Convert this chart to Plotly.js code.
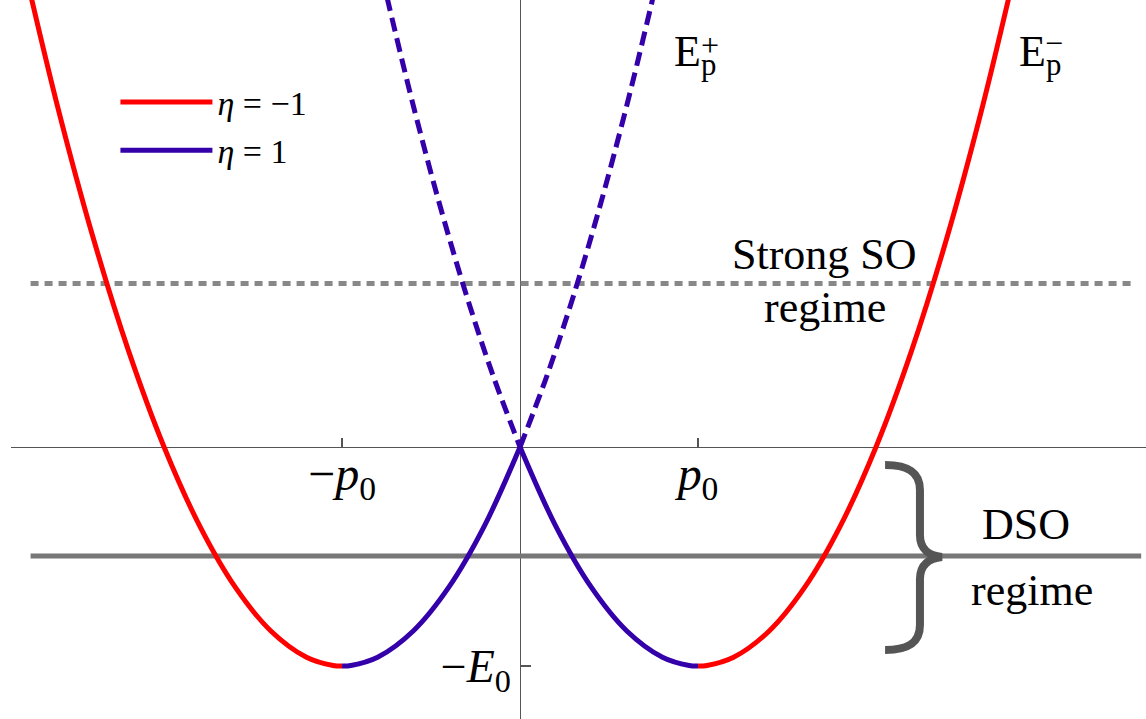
<!DOCTYPE html>
<html>
<head>
<meta charset="utf-8">
<script src="https://cdn.plot.ly/plotly-3.0.1.min.js"></script>
<style>
  html, body { margin: 0; padding: 0; background: #fff; }
  #plot { width: 1146px; height: 719px; }
</style>
</head>
<body>
<div id="plot"></div>
<script>
// Spectrum E(p) in units of p0 (momentum) and E0 (energy)

// outer branch, eta = -1 (solid red)
const redLeftP  = [-2.8, -2.6, -2.4, -2.2, -2.0, -1.8, -1.6, -1.4, -1.2, -1.05, -1.0];
const redLeftE  = [2.24, 1.56, 0.96, 0.44, 0.0, -0.36, -0.64, -0.84, -0.96, -0.9975, -1.0];
const redRightP = [1.0, 1.05, 1.2, 1.4, 1.6, 1.8, 2.0, 2.2, 2.4, 2.6, 2.8];
const redRightE = [-1.0, -0.9975, -0.96, -0.84, -0.64, -0.36, 0.0, 0.44, 0.96, 1.56, 2.24];

// inner branch, eta = 1 (solid blue)
const blueLeftP  = [-1.0, -0.95, -0.8, -0.6, -0.4, -0.2, 0.0];
const blueLeftE  = [-1.0, -0.9975, -0.96, -0.84, -0.64, -0.36, 0.0];
const blueRightP = [0.0, 0.2, 0.4, 0.6, 0.8, 0.95, 1.0];
const blueRightE = [0.0, -0.36, -0.64, -0.84, -0.96, -0.9975, -1.0];

// upper branch E_p^+ (dashed blue)
const dashLeftP  = [-0.8, -0.75, -0.6, -0.45, -0.3, -0.15, 0.0];
const dashLeftE  = [2.24, 2.0625, 1.56, 1.1025, 0.69, 0.3225, 0.0];
const dashRightP = [0.0, 0.15, 0.3, 0.45, 0.6, 0.75, 0.8];
const dashRightE = [0.0, 0.3225, 0.69, 1.1025, 1.56, 2.0625, 2.24];

// Fermi levels for the two regimes
const strongLevelP = [-2.75, 3.45];
const strongLevelE = [0.747, 0.747];
const dsoLevelP    = [-2.75, 3.49];
const dsoLevelE    = [-0.498, -0.498];

// axis ticks
const xTickVals  = [-1, 1];
const xTickText  = ['−<i>p</i><sub>0</sub>', '<i>p</i><sub>0</sub>'];
const yTickVals  = [-1];
const yTickText  = ['−<i>E</i><sub>0</sub>'];

const RED  = '#ff0000';
const BLUE = '#3300aa';
const SERIF = 'Liberation Serif';

const xRange = [-2.860, 3.517];
const yRange = [-1.242, 2.041];

function seg(x, y, color, opts) {
  return Object.assign({
    type: 'scatter', mode: 'lines', x: x, y: y,
    line: { color: color, width: 5, shape: 'spline' },
    hoverinfo: 'skip', showlegend: false
  }, opts || {});
}

const traces = [
  seg(strongLevelP, strongLevelE, '#888888', { line: { color: '#888888', width: 5, dash: '8px,6px' } }),
  seg(dsoLevelP, dsoLevelE, '#777777', { line: { color: '#777777', width: 5 } }),
  seg(dashLeftP, dashLeftE, BLUE, { line: { color: BLUE, width: 5, dash: '14px,7px', shape: 'spline' } }),
  seg(dashRightP, dashRightE, BLUE, { line: { color: BLUE, width: 5, dash: '14px,7px', shape: 'spline' } }),
  seg(redLeftP, redLeftE, RED, { name: '<i>η</i> = −1', legendgroup: 'm', showlegend: true }),
  seg(redRightP, redRightE, RED, { legendgroup: 'm' }),
  seg(blueLeftP, blueLeftE, BLUE, { name: '<i>η</i> = 1', legendgroup: 'p', showlegend: true }),
  seg(blueRightP, blueRightE, BLUE, { legendgroup: 'p' })
];

const txt = (x, y, text, size, xanchor, yanchor) => ({
  x: x, y: y, xref: 'x', yref: 'y', text: text, showarrow: false,
  xanchor: xanchor || 'center', yanchor: yanchor || 'middle',
  font: { family: SERIF, size: size, color: '#000' }
});

const annotations = [
  txt(0.854, 1.790, 'E<sub>p</sub>', 44, 'left', 'middle'),
  txt(1.068, 1.835, '+', 32),
  txt(2.792, 1.790, 'E<sub>p</sub>', 44, 'left', 'middle'),
  txt(3.000, 1.845, '−', 32),
  txt(1.713, 0.877, 'Strong SO', 44),
  txt(1.713, 0.635, 'regime', 44),
  txt(2.843, -0.352, 'DSO', 44),
  txt(2.876, -0.653, 'regime', 44)
];

// curly brace grouping the DSO regime
const brace = {
  type: 'path', xref: 'x', yref: 'y', layer: 'above',
  path: 'M2.051,-0.082 C2.163,-0.082 2.247,-0.105 2.247,-0.196 L2.247,-0.402 ' +
        'C2.247,-0.470 2.303,-0.498 2.371,-0.502 ' +
        'C2.303,-0.507 2.247,-0.534 2.247,-0.603 L2.247,-0.813 ' +
        'C2.247,-0.904 2.163,-0.927 2.051,-0.927',
  line: { color: '#555555', width: 8 }
};

const layout = {
  width: 1146, height: 719,
  margin: { l: 11, r: 0, t: 0, b: 0, pad: 0 },
  paper_bgcolor: '#ffffff', plot_bgcolor: '#ffffff',
  showlegend: true,
  legend: {
    x: 0.092, y: 0.898, xanchor: 'left', yanchor: 'top',
    bgcolor: 'rgba(0,0,0,0)', borderwidth: 0,
    traceorder: 'grouped', tracegroupgap: 1,
    itemwidth: 92,
    font: { family: SERIF, size: 34, color: '#000' }
  },
  xaxis: {
    range: xRange, anchor: 'free', position: 0.3783,
    showgrid: false, zeroline: false,
    showline: true, linecolor: '#555555', linewidth: 1.2,
    ticks: 'inside', ticklen: 9, tickwidth: 1.2, tickcolor: '#555555',
    tickvals: xTickVals, ticktext: xTickText, ticklabelstandoff: -16,
    tickfont: { family: SERIF, size: 48, color: '#000' },
    layer: 'below traces', fixedrange: true
  },
  yaxis: {
    range: yRange, anchor: 'free', position: 0.4485,
    showgrid: false, zeroline: false,
    showline: true, linecolor: '#555555', linewidth: 1.2,
    ticks: 'inside', ticklen: 10, tickwidth: 1.2, tickcolor: '#555555',
    tickvals: yTickVals, ticktext: yTickText,
    tickfont: { family: SERIF, size: 46, color: '#000' },
    layer: 'below traces', fixedrange: true
  },
  annotations: annotations,
  shapes: [brace]
};

Plotly.newPlot('plot', traces, layout, { staticPlot: true, displayModeBar: false });
</script>
</body>
</html>
